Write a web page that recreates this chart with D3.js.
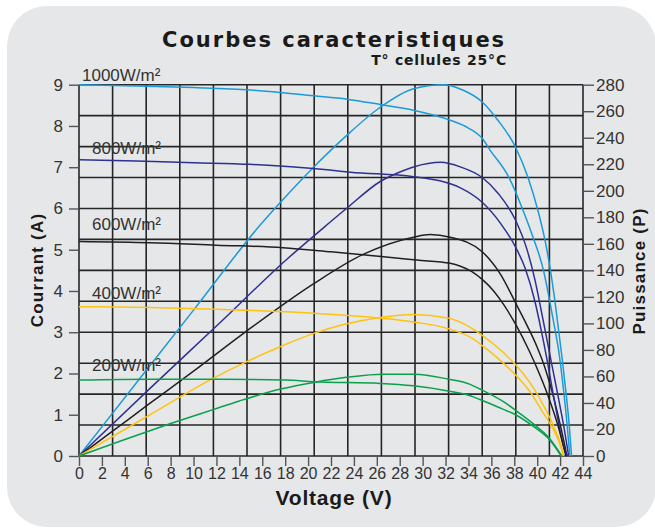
<!DOCTYPE html>
<meta charset="utf-8">
<style>
body { margin: 0; background: #fff; }
svg { display: block; font-family: "Liberation Sans", Arial, sans-serif; }
.grid line { stroke: #262626; stroke-width: 1.6; }
.axis text { font-size: 17px; fill: #333; }
.axis.x text { font-size: 16px; }
.axis line { stroke: #555; stroke-width: 1.4; }
.curve { fill: none; stroke-width: 1.5; }
.irr { font-size: 17px; fill: #333; }
.ttl { font-weight: bold; fill: #1a1a1a; }
</style>
<body></body>
<script src="https://cdn.jsdelivr.net/npm/d3@7/dist/d3.min.js"></script>
<script>

// irradiance levels, top to bottom
var irradiances = ["1000W/m²", "800W/m²", "600W/m²", "400W/m²", "200W/m²"];
var colors = ["#1b9ad8", "#2e3192", "#231f20", "#ffc20e", "#0aa14c"];

// current curves [V, A]
var iv1000 = [[0,9.0],[5,8.97],[10,8.93],[15,8.87],[20.5,8.73],[23.4,8.65],[26.3,8.52],[29.2,8.38],[32.4,8.14],[34,7.95],[35.2,7.7],[35.9,7.41],[37.5,6.77],[38.7,6.0],[39.6,5.33],[40.55,4.5],[41.1,3.75],[41.6,3.0],[41.85,2.6],[42.3,1.6],[42.6,0.8],[42.85,0]];
var iv800 = [[0,7.18],[5,7.15],[10,7.11],[14.9,7.07],[21.9,6.93],[23.7,6.88],[29.2,6.77],[31.5,6.67],[33.3,6.5],[35.2,6.15],[36.8,5.64],[38.1,5.07],[38.95,4.55],[39.8,3.75],[40.35,3.05],[40.85,2.35],[41.3,1.65],[41.8,0.9],[42.25,0.3],[42.65,0]];
var iv600 = [[0,5.2],[6.2,5.17],[12,5.11],[17.8,5.05],[22,4.95],[26.6,4.83],[29.5,4.75],[32.4,4.67],[33.3,4.6],[34.3,4.47],[35.2,4.28],[36.2,4.0],[37.05,3.68],[38.1,3.2],[39.3,2.55],[40.3,1.92],[41.0,1.42],[41.8,0.75],[42.5,0]];
var iv400 = [[0,3.62],[6.2,3.6],[12,3.56],[20.5,3.46],[25.7,3.36],[29.2,3.25],[32.2,3.09],[34.15,2.88],[35,2.72],[37.05,2.25],[38.5,1.85],[39.4,1.55],[40.4,1.1],[41.3,0.7],[41.85,0.38],[42.3,0]];
var iv200 = [[0,1.84],[6.2,1.86],[12,1.86],[18,1.84],[20.5,1.8],[26.3,1.76],[29.2,1.7],[32.1,1.58],[34.15,1.46],[35,1.37],[37.05,1.13],[37.9,1.03],[39.7,0.71],[41.1,0.39],[42.1,0]];

// power curves [V, W]
var p1000 = [[0,0],[5,55],[10,110],[15.8,174],[17.55,191],[20.5,218],[23.4,242],[26.3,263],[29.2,277],[31.8,280],[33.5,276],[35.2,267],[36.5,254],[38.1,233],[39.2,210],[40.1,184],[40.7,162],[41.1,143],[41.5,120],[41.85,96],[42.2,72],[42.55,45],[42.8,23],[43.0,0]];
var p800 = [[0,0],[6.2,51],[12,98],[18.1,148],[21.6,174],[23.4,187],[26.3,207],[27.7,213],[29.2,218],[31.6,221.5],[33.3,218],[35.2,210],[36.6,198],[38.1,178],[39.1,156],[39.8,133],[40.3,112],[40.8,90],[41.3,68],[41.85,44],[42.35,21],[42.75,0]];
var p600 = [[0,0],[2.9,18.5],[6,38.5],[10,64],[14.6,94],[20.5,130],[24.8,152],[29.2,165],[30.65,167],[32.4,165],[35.2,154],[36.8,137],[38.2,114],[39.2,97],[40.0,82],[40.7,66],[41.35,47],[42.0,24],[42.6,0]];
var p400 = [[0,0],[5.9,29.6],[11.7,58.6],[14.6,71],[17.55,82.4],[20.5,92.5],[23,99],[26.3,104.5],[29.2,106.8],[32.2,104],[34.15,97],[35.2,91],[37.05,78],[38.5,65],[39.7,51],[40.5,39],[41.1,29],[41.6,19],[42.0,10],[42.3,0]];
var p200 = [[0,0],[4,12.5],[8,24.5],[11.7,35],[14,41.5],[17.6,50.5],[20.5,55.5],[23.5,59.5],[26.5,61.7],[29.3,61.7],[32.2,58],[34.15,54],[35,50.5],[37.05,41],[38.5,32],[39.7,24],[41.1,13],[42.15,0]];

var ivCurves = [iv1000, iv800, iv600, iv400, iv200];
var pCurves = [p1000, p800, p600, p400, p200];
var irrLabelY = [9.08, 7.31, 5.49, 3.8, 2.06]; // current level of each label's baseline

var xTicks = d3.range(0, 45, 2);
var iTicks = d3.range(0, 10, 1);
var pTicks = d3.range(0, 281, 20);

var W = 655, H = 529;
var svg = d3.select("body").append("svg").attr("width", W).attr("height", H);

// panel
svg.append("rect")
  .attr("x", 7).attr("y", 6)
  .attr("width", 649).attr("height", 521)
  .attr("rx", 40).attr("ry", 40)
  .style("fill", "#e6e7e9");

var x = d3.scaleLinear().domain([0, 44]).range([79, 583]);
var yI = d3.scaleLinear().domain([0, 9]).range([456, 84.7]);
var yP = d3.scaleLinear().domain([0, 280]).range([456, 84.7]);

// grid: 15 columns, 12 rows
var grid = svg.append("g").attr("class", "grid");
grid.selectAll(".v").data(d3.range(16)).enter().append("line")
  .attr("x1", function(d) { return x(d * 44 / 15); })
  .attr("x2", function(d) { return x(d * 44 / 15); })
  .attr("y1", yI(9)).attr("y2", yI(0));
grid.selectAll(".h").data(d3.range(13)).enter().append("line")
  .attr("x1", x(0)).attr("x2", x(44))
  .attr("y1", function(d) { return yI(d * 0.75); })
  .attr("y2", function(d) { return yI(d * 0.75); });

// axes
svg.append("g").attr("class", "axis")
  .attr("transform", "translate(" + x(0) + ",0)")
  .call(d3.axisLeft(yI).tickValues(iTicks).tickSize(10).tickPadding(6))
  .call(function(g) { g.select(".domain").remove(); });

svg.append("g").attr("class", "axis")
  .attr("transform", "translate(" + x(44) + ",0)")
  .call(d3.axisRight(yP).tickValues(pTicks).tickSize(11).tickPadding(2))
  .call(function(g) { g.select(".domain").remove(); });

svg.append("g").attr("class", "axis x")
  .attr("transform", "translate(0," + yI(0) + ")")
  .call(d3.axisBottom(x).tickValues(xTicks).tickSize(10).tickPadding(2))
  .call(function(g) { g.select(".domain").remove(); });

// curves
var lineI = d3.line().x(function(d) { return x(d[0]); }).y(function(d) { return yI(d[1]); }).curve(d3.curveMonotoneX);
var lineP = d3.line().x(function(d) { return x(d[0]); }).y(function(d) { return yP(d[1]); }).curve(d3.curveMonotoneX);

svg.selectAll(".pc").data(pCurves).enter().append("path")
  .attr("class", "curve")
  .attr("d", lineP)
  .style("stroke", function(d, i) { return colors[i]; });

svg.selectAll(".ic").data(ivCurves).enter().append("path")
  .attr("class", "curve")
  .attr("d", lineI)
  .style("stroke", function(d, i) { return colors[i]; });

// irradiance labels
svg.selectAll(".irr").data(irradiances).enter().append("text")
  .attr("class", "irr")
  .attr("x", function(d, i) { return i == 0 ? 82 : 92; })
  .attr("y", function(d, i) { return yI(irrLabelY[i]); })
  .text(function(d) { return d; });

// titles
svg.append("text").attr("class", "ttl")
  .attr("x", 162).attr("y", 47)
  .style("font-family", "'DejaVu Sans', sans-serif")
  .style("font-size", "21px").style("letter-spacing", "2px")
  .text("Courbes caracteristiques");

svg.append("text").attr("class", "ttl")
  .attr("x", 507).attr("y", 65)
  .attr("text-anchor", "end")
  .style("font-family", "'DejaVu Sans', sans-serif")
  .style("font-size", "14px").style("letter-spacing", "0.8px")
  .text("T° cellules 25°C");

svg.append("text").attr("class", "ttl")
  .attr("x", 334).attr("y", 505)
  .attr("text-anchor", "middle")
  .style("font-size", "21px").style("letter-spacing", "0.8px")
  .text("Voltage (V)");

svg.append("text").attr("class", "ttl")
  .attr("transform", "translate(43,270) rotate(-90)")
  .attr("text-anchor", "middle")
  .style("font-size", "17px").style("letter-spacing", "1.2px")
  .text("Courrant (A)");

svg.append("text").attr("class", "ttl")
  .attr("transform", "translate(645,271) rotate(-90)")
  .attr("text-anchor", "middle")
  .style("font-size", "17px").style("letter-spacing", "1.2px")
  .text("Puissance (P)");

</script>
